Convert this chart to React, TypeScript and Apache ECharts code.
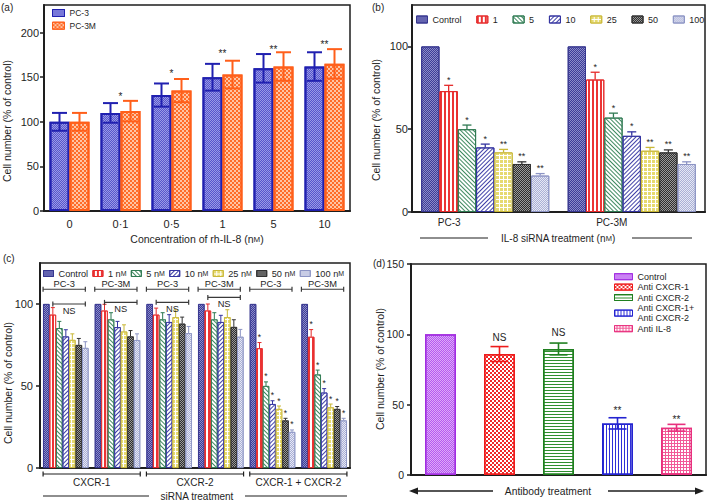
import React, { useEffect, useRef } from 'react';
import * as echarts from 'echarts';

const FONT = 'Liberation Sans, Arial, Helvetica, sans-serif';
const INK = '#1e1e1e';

// ---------- (a) ----------
const aCategories = ['0', '0·1', '0·5', '1', '5', '10'];
const aSeriesNames = ['PC-3', 'PC-3M'];
const aPC3 = [100, 110, 130, 150, 160, 162];
const aPC3Err = [10, 11, 13, 15, 16, 16];
const aPC3M = [100, 112, 135, 153, 162, 165];
const aPC3MErr = [10, 11.5, 13, 15.5, 16, 16.5];
const aSig = ['', '*', '*', '**', '**', '**'];
const aSigY = [0, 131, 157, 179, 184, 190];
const aTicks = [0, 50, 100, 150, 200];

// ---------- (b) ----------
const bGroups = ['PC-3', 'PC-3M'];
const bDoses = ['Control', '1', '5', '10', '25', '50', '100'];
const bPC3 = [100, 73, 50, 39, 36, 29, 22];
const bPC3Err = [0, 3.5, 2.5, 2, 1.8, 1.3, 1.2];
const bPC3M = [100, 80, 57, 46, 37, 36, 29];
const bPC3MErr = [0, 4.4, 2.7, 2.4, 2, 1.5, 1.3];
const bSig = ['', '*', '*', '*', '**', '**', '**'];
const bTicks = [0, 50, 100];

// ---------- (c) ----------
const cGroups = ['PC-3', 'PC-3M', 'PC-3', 'PC-3M', 'PC-3', 'PC-3M'];
const cTreatments = ['CXCR-1', 'CXCR-2', 'CXCR-1 + CXCR-2'];
const cDoses = ['Control', '1 nM', '5 nM', '10 nM', '25 nM', '50 nM', '100 nM'];
const cControl = [100, 100, 100, 100, 100, 100];
const c1nM = [93.5, 96, 93.5, 96, 73, 80];
const c5nM = [85.3, 90.6, 90.6, 90.6, 50, 57];
const c10nM = [80.2, 85.9, 89, 89, 39, 46];
const c25nM = [78.1, 83.2, 92, 92, 36, 37];
const c50nM = [75, 80.2, 88, 86, 29, 36];
const c100nM = [73.2, 78, 82.2, 80, 22, 29];
const cErrControl = [0, 0, 0, 0, 0, 0];
const cErr1nM = [4.3, 3.8, 4, 4, 3.5, 4.4];
const cErr5nM = [4.1, 4.1, 4.1, 4.1, 2.5, 2.7];
const cErr10nM = [4.1, 3.5, 4.5, 4.1, 2, 2.4];
const cErr25nM = [3.7, 4.1, 4.5, 4.5, 1.8, 2];
const cErr50nM = [4, 3.6, 4, 4.4, 1.3, 1.5];
const cErr100nM = [3.8, 3.8, 4.1, 4.5, 1.2, 1.3];
const cSig = ['', '', '', '', '*', '*'];
const cNSY = [100, 101, 101, 104];
const cCellLineY = 109;
const cTicks = [0, 50, 100];

// ---------- (d) ----------
const dCategories = ['Control', 'Anti CXCR-1', 'Anti CXCR-2', 'Anti CXCR-1+\nAnti CXCR-2', 'Anti IL-8'];
const dValues = [100, 86, 89.6, 36.7, 33.6];
const dErr = [0, 5.3, 4.2, 4, 2.4];
const dSig = ['', 'NS', 'NS', '**', '**'];
const dSigY = [0, 98, 101, 47.6, 41];
const dTicks = [0, 50, 100, 150];

// ---------- styles ----------
const dec = {
  check: (color: string, s: number) => ({ symbol: 'rect', symbolSize: 1, color, dashArrayX: [[s, s], [0, s, s, 0]], dashArrayY: [s, 0], rotation: 0 }),
  vlines: (color: string, w: number, g: number) => ({ symbol: 'rect', symbolSize: 1, color, dashArrayX: [[w, g]], dashArrayY: [1, 0], rotation: 0 }),
  hlines: (color: string, h: number, g: number, rot = 0) => ({ symbol: 'rect', symbolSize: 1, color, dashArrayX: [[1, 0]], dashArrayY: [h, g], rotation: rot }),
  grid: (color: string, s: number, g: number) => ({ symbol: 'rect', symbolSize: 1, color, dashArrayX: [[s, g]], dashArrayY: [s, g], rotation: 0 }),
};

const aStyles = [
  { border: '#2020b0', base: '#9a9ae6', decal: dec.check('#5656cc', 1) },
  { border: '#ff5f1a', base: '#ffc4a4', decal: dec.check('#ff6c28', 2) },
];
const doseStyles = [
  { border: '#36368f', base: '#8c8cc8', decal: dec.check('#3c3c98', 1) },
  { border: '#e52a2a', base: '#ffffff', decal: dec.vlines('#ec3434', 2, 2) },
  { border: '#2f7a52', base: '#ffffff', decal: dec.hlines('#3f8a60', 1, 2, Math.PI / 4) },
  { border: '#3434a0', base: '#ffffff', decal: dec.hlines('#4040a8', 1, 2, -Math.PI / 4) },
  { border: '#c9b838', base: '#ffffff', decal: dec.grid('#e6da70', 3, 1) },
  { border: '#333333', base: '#9a9a9a', decal: dec.check('#2e2e2e', 1) },
  { border: '#8c94c4', base: '#e6e8f4', decal: dec.check('#aab0d6', 1) },
];
const dStyles = [
  { border: '#a22ee0', base: '#dfaaf8', decal: dec.check('#b45af0', 1) },
  { border: '#ee1c1c', base: '#ffffff', decal: dec.check('#f02828', 2) },
  { border: '#1f7f1f', base: '#ffffff', decal: dec.hlines('#2f8f2f', 1, 2) },
  { border: '#2424d0', base: '#ffffff', decal: dec.vlines('#3030d8', 1, 2) },
  { border: '#e8307e', base: '#f25a98', decal: dec.grid('#ffffff', 2, 1) },
];

const A_BW = 20, B_BW = 18.3, C_BW = 6.5, D_BW = 31;

function barX(api: any, cat: number, k: number, n: number, bw: number) {
  return api.coord([cat, 0])[0] + (k - (n - 1) / 2) * bw;
}

function txt(text: string, x: number, y: number, fs: number, align = 'center', vAlign = 'middle', extra: any = {}) {
  return {
    type: 'text', x, y, silent: true,
    style: { text, fontSize: fs, fontFamily: FONT, fill: INK, align, verticalAlign: vAlign, textAlign: align, textVerticalAlign: vAlign, ...extra },
  };
}
function ln(x1: number, y1: number, x2: number, y2: number, stroke = INK, lw = 1.2) {
  return { type: 'line', silent: true, shape: { x1, y1, x2, y2 }, style: { stroke, lineWidth: lw } };
}

function errorBars(gi: number, items: number[][], cfg: any) {
  return {
    type: 'custom', xAxisIndex: gi, yAxisIndex: gi, clip: false, silent: true, z: 5,
    data: items,
    renderItem: (params: any, api: any) => {
      const cat = api.value(0), v = api.value(1), e = api.value(2), k = api.value(3);
      const x = barX(api, cat, k, cfg.n, cfg.bw);
      const yV = api.coord([cat, v])[1];
      const yT = api.coord([cat, v + e])[1];
      const yB = cfg.upperOnly ? yV : api.coord([cat, v - e])[1];
      const stroke = cfg.color(cat, k);
      const ch: any[] = [];
      if (e > 0) {
        ch.push(ln(x, yT, x, yB, stroke, cfg.lw));
        ch.push(ln(x - cfg.cap / 2, yT, x + cfg.cap / 2, yT, stroke, cfg.lw));
        if (!cfg.upperOnly) ch.push(ln(x - cfg.cap / 2, yB, x + cfg.cap / 2, yB, stroke, cfg.lw));
      }
      const s = cfg.sig ? cfg.sig(params.dataIndex) : '';
      if (s) ch.push(txt(s, x, yT - 1, cfg.sigSize, 'center', 'bottom'));
      return { type: 'group', children: ch };
    },
  };
}

function sigLabels(gi: number, items: number[][], texts: string[], fs: number) {
  return {
    type: 'custom', xAxisIndex: gi, yAxisIndex: gi, clip: false, silent: true, z: 6,
    data: items,
    renderItem: (params: any, api: any) => {
      const t = texts[params.dataIndex];
      if (!t) return { type: 'group', children: [] };
      const p = api.coord([api.value(0), api.value(1)]);
      const star = t.indexOf('*') >= 0;
      return txt(t, p[0], p[1] + (star ? fs * 0.25 : 0), fs);
    },
  };
}

function buildOption() {
  const yAxisCfg = (gridIndex: number, max: number, ticks: number[], margin: number, fs = 11) => ({
    type: 'value', gridIndex, min: 0, max,
    axisLine: { show: true, lineStyle: { color: INK, width: 2 } },
    axisTick: { show: true, length: 4, lineStyle: { color: INK, width: 1.5 }, customValues: ticks },
    axisLabel: { fontSize: fs, color: INK, fontFamily: FONT, margin, customValues: ticks },
    splitLine: { show: false },
  });
  const axisLine = { show: true, lineStyle: { color: INK, width: 2 } };

  const series: any[] = [];

  // (a)
  [aPC3, aPC3M].forEach((vals, i) => {
    series.push({
      type: 'bar', name: aSeriesNames[i], xAxisIndex: 0, yAxisIndex: 0, data: vals,
      barWidth: A_BW, barGap: '0%',
      itemStyle: { color: aStyles[i].base, borderColor: aStyles[i].border, borderWidth: 2, decal: aStyles[i].decal },
    });
  });
  const aErrItems: number[][] = [];
  [aPC3Err, aPC3MErr].forEach((errs, k) => {
    const vals = k === 0 ? aPC3 : aPC3M;
    vals.forEach((v, c) => aErrItems.push([c, v, errs[c], k]));
  });
  series.push(errorBars(0, aErrItems, { n: 2, bw: A_BW, lw: 2, cap: 15, upperOnly: false, color: (_c: number, k: number) => aStyles[k].border }));
  series.push(sigLabels(0, aCategories.map((_, c) => [c, aSigY[c]]), aSig, 10));

  // (b)
  const bVals = [bPC3, bPC3M];
  const bErrs = [bPC3Err, bPC3MErr];
  bDoses.forEach((d, k) => {
    series.push({
      type: 'bar', name: 'b|' + d, xAxisIndex: 1, yAxisIndex: 1,
      data: bGroups.map((_, g) => bVals[g][k]),
      barWidth: B_BW, barGap: '0%',
      itemStyle: { color: doseStyles[k].base, borderColor: doseStyles[k].border, borderWidth: 1, decal: doseStyles[k].decal },
    });
  });
  const bErrItems: number[][] = [];
  const bErrSig: string[] = [];
  bGroups.forEach((_, g) => bDoses.forEach((__, k) => { bErrItems.push([g, bVals[g][k], bErrs[g][k], k]); bErrSig.push(bSig[k]); }));
  series.push(errorBars(1, bErrItems, { n: 7, bw: B_BW, lw: 1.3, cap: 9, upperOnly: true, color: (_c: number, k: number) => doseStyles[k].border, sig: (i: number) => bErrSig[i], sigSize: 9 }));

  // (c)
  const cVals = [cControl, c1nM, c5nM, c10nM, c25nM, c50nM, c100nM];
  const cErrs = [cErrControl, cErr1nM, cErr5nM, cErr10nM, cErr25nM, cErr50nM, cErr100nM];
  cDoses.forEach((d, k) => {
    series.push({
      type: 'bar', name: 'c|' + d, xAxisIndex: 2, yAxisIndex: 2, data: cVals[k],
      barWidth: C_BW, barGap: '0%',
      itemStyle: { color: doseStyles[k].base, borderColor: doseStyles[k].border, borderWidth: 0.8, decal: doseStyles[k].decal },
    });
  });
  const cErrItems: number[][] = [];
  const cErrSig: string[] = [];
  cGroups.forEach((_, g) => cDoses.forEach((__, k) => { cErrItems.push([g, cVals[k][g], cErrs[k][g], k]); cErrSig.push(k > 0 ? cSig[g] : ''); }));
  series.push(errorBars(2, cErrItems, { n: 7, bw: C_BW, lw: 1, cap: 4, upperOnly: true, color: (_c: number, k: number) => doseStyles[k].border, sig: (i: number) => cErrSig[i], sigSize: 8.5 }));

  const cBracketItems: number[][] = [];
  const cBracketText: string[] = [];
  cGroups.forEach((gName, g) => { cBracketItems.push([g, cCellLineY, 0]); cBracketText.push(gName); });
  cNSY.forEach((y, g) => { cBracketItems.push([g, y, 1]); cBracketText.push('NS'); });
  series.push({
    type: 'custom', xAxisIndex: 2, yAxisIndex: 2, clip: false, silent: true, z: 6, data: cBracketItems,
    renderItem: (params: any, api: any) => {
      const g = api.value(0), y = api.value(1), kind = api.value(2);
      const xL = kind === 0 ? barX(api, g, 0, 7, C_BW) - C_BW / 2 : barX(api, g, 1, 7, C_BW);
      const xR = barX(api, g, 6, 7, C_BW);
      const py = api.coord([g, y])[1];
      const col = '#3a3a3a';
      const ch: any[] = [ln(xL, py, xR, py, col, 1.2), ln(xL, py - 2.5, xL, py + 2.5, col, 1.2), ln(xR, py - 2.5, xR, py + 2.5, col, 1.2)];
      const t = cBracketText[params.dataIndex];
      if (kind === 0) ch.push(txt(t, (xL + xR) / 2, py - 1, 9.3, 'center', 'bottom'));
      else ch.push(txt(t, (xL + xR) / 2, py + 2.5, 9.3, 'center', 'top'));
      return { type: 'group', children: ch };
    },
  });
  series.push({
    type: 'custom', xAxisIndex: 2, yAxisIndex: 2, clip: false, silent: true, z: 6,
    data: cTreatments.map((_, i) => [i * 2, i * 2 + 1]),
    renderItem: (params: any, api: any) => {
      const g0 = api.value(0), g1 = api.value(1);
      const xL = barX(api, g0, 0, 7, C_BW) - C_BW / 2;
      const xR = barX(api, g1, 6, 7, C_BW) + C_BW / 2;
      const py = api.coord([g0, 0])[1] + 6;
      return {
        type: 'group',
        children: [
          ln(xL, py, xR, py, INK, 1.2), ln(xL, py - 2.5, xL, py + 2.5, INK, 1.2), ln(xR, py - 2.5, xR, py + 2.5, INK, 1.2),
          txt(cTreatments[params.dataIndex], (xL + xR) / 2, py + 3.5, 10, 'center', 'top'),
        ],
      };
    },
  });

  // (d)
  dCategories.forEach((name, i) => {
    series.push({
      type: 'bar', name: 'd|' + name, xAxisIndex: 3, yAxisIndex: 3,
      data: dCategories.map((_, j) => (j === i ? dValues[i] : '-')),
      barWidth: D_BW, barGap: '-100%',
      itemStyle: { color: dStyles[i].base, borderColor: dStyles[i].border, borderWidth: 1.5, decal: dStyles[i].decal },
    });
  });
  series.push(errorBars(3, dCategories.map((_, i) => [i, dValues[i], dErr[i], 0]), { n: 1, bw: D_BW, lw: 1.6, cap: 18, upperOnly: false, color: (c: number) => dStyles[c].border }));
  series.push(sigLabels(3, dCategories.map((_, i) => [i, dSigY[i]]), dSig, 10));

  const strip = (name: string) => name.slice(2);
  const scRich = (fs: number) => ({ sc: { fontSize: fs, fontFamily: FONT, color: INK } });

  const graphic: any[] = [
    txt('(a)', 1, 7, 10, 'left'),
    txt('(b)', 372, 7, 10, 'left'),
    txt('(c)', 3, 258, 10, 'left'),
    txt('(d)', 373, 263, 10, 'left'),
    { ...txt('Cell number (% of control)', 7, 121, 10.5), rotation: Math.PI / 2 },
    { ...txt('Cell number (% of control)', 376, 120, 10.5), rotation: Math.PI / 2 },
    { ...txt('Cell number (% of control)', 8, 383, 10.5), rotation: Math.PI / 2 },
    { ...txt('Cell number (% of control)', 380, 369, 10.5), rotation: Math.PI / 2 },
    txt('IL-8 siRNA treatment (n{sc|M})', 558, 238, 10, 'center', 'middle', { rich: scRich(7.5) }),
    ln(420, 238, 488, 238, INK, 1.2),
    ln(632, 238, 692, 238, INK, 1.2),
    txt('siRNA treatment', 197, 496, 10),
    ln(43, 496, 149, 496, INK, 1.2),
    ln(245, 496, 347, 496, INK, 1.2),
    txt('Antibody treatment', 548, 491, 10.3),
    ln(414, 491, 493, 491, INK, 1.5),
    ln(608, 491, 699, 491, INK, 1.5),
    { type: 'polygon', silent: true, shape: { points: [[409, 491], [418, 487.5], [418, 494.5]] }, style: { fill: INK } },
    { type: 'polygon', silent: true, shape: { points: [[704, 491], [695, 487.5], [695, 494.5]] }, style: { fill: INK } },
  ];

  return {
    animation: false,
    backgroundColor: '#ffffff',
    textStyle: { fontFamily: FONT, color: INK },
    grid: [
      { left: 44, top: 5, width: 306, height: 206, show: true, borderColor: INK, borderWidth: 1.5, backgroundColor: 'transparent' },
      { left: 412, top: 5, width: 293, height: 207, show: true, borderColor: INK, borderWidth: 1.5, backgroundColor: 'transparent' },
      { left: 40, top: 263, width: 310, height: 205, show: true, borderColor: INK, borderWidth: 1.5, backgroundColor: 'transparent' },
      { left: 411, top: 264, width: 295, height: 211, show: true, borderColor: INK, borderWidth: 1.5, backgroundColor: 'transparent' },
    ],
    xAxis: [
      {
        type: 'category', gridIndex: 0, data: aCategories, axisLine,
        axisTick: { alignWithLabel: true, length: 4, lineStyle: { color: INK, width: 1.5 } },
        axisLabel: { fontSize: 11, color: INK, margin: 7, fontFamily: FONT },
        name: 'Concentration of rh-IL-8 (n{sc|M})', nameLocation: 'middle', nameGap: 22.5,
        nameTextStyle: { fontSize: 10.5, color: INK, fontFamily: FONT, rich: scRich(8) },
      },
      {
        type: 'category', gridIndex: 1, axisLine, axisTick: { show: false },
        data: [
          { value: bGroups[0], textStyle: { padding: [0, 72, 0, 0] } },
          { value: bGroups[1], textStyle: { padding: [0, 40, 0, 0] } },
        ],
        axisLabel: { fontSize: 10, color: INK, margin: 5, fontFamily: FONT },
      },
      { type: 'category', gridIndex: 2, data: cGroups, axisLine, axisTick: { show: false }, axisLabel: { show: false } },
      {
        type: 'category', gridIndex: 3, data: dCategories, axisLine,
        axisTick: { alignWithLabel: true, length: 5, lineStyle: { color: INK, width: 1.5 } },
        axisLabel: { show: false },
      },
    ],
    yAxis: [
      yAxisCfg(0, 231, aTicks, 5),
      yAxisCfg(1, 125, bTicks, 4),
      yAxisCfg(2, 125, cTicks, 7),
      yAxisCfg(3, 150, dTicks, 7, 10.5),
    ],
    legend: [
      {
        data: aSeriesNames, orient: 'vertical', left: 52, top: 8, padding: 0, selectedMode: false,
        itemWidth: 12, itemHeight: 7, itemGap: 2.7, icon: 'rect',
        itemStyle: { borderWidth: 1 },
        textStyle: { fontSize: 8.5, color: INK, lineHeight: 10, fontFamily: FONT },
      },
      {
        data: bDoses.map((d) => 'b|' + d), orient: 'horizontal', left: 416, top: 15, width: 292, padding: 0, selectedMode: false,
        itemWidth: 11, itemHeight: 7, itemGap: 14.8, icon: 'rect', formatter: strip,
        itemStyle: { borderWidth: 1 },
        textStyle: { fontSize: 9, color: INK, fontFamily: FONT },
      },
      {
        data: cDoses.map((d) => 'c|' + d), orient: 'horizontal', left: 43, top: 269, width: 310, padding: 0, selectedMode: false,
        itemWidth: 10, itemHeight: 6, itemGap: 4.3, icon: 'rect',
        formatter: (name: string) => strip(name).replace(' nM', ' n{sc|M}'),
        itemStyle: { borderWidth: 1 },
        textStyle: { fontSize: 9.2, color: INK, fontFamily: FONT, rich: scRich(7) },
      },
      {
        data: dCategories.map((d) => 'd|' + d), orient: 'vertical', left: 614, top: 271.5, padding: 0, selectedMode: false,
        itemWidth: 18, itemHeight: 6, itemGap: 0, icon: 'rect', formatter: strip,
        itemStyle: { borderWidth: 1 },
        textStyle: { fontSize: 9, color: INK, lineHeight: 10.4, fontFamily: FONT },
      },
    ],
    series,
    graphic,
  };
}

export default function App() {
  const ref = useRef<HTMLDivElement>(null);
  useEffect(() => {
    const chart = echarts.init(ref.current as HTMLDivElement, null, { renderer: 'svg' });
    chart.setOption(buildOption() as any);
    return () => chart.dispose();
  }, []);
  return <div ref={ref} style={{ position: 'fixed', left: 0, top: 0, width: 709, height: 502, background: '#fff' }} />;
}
